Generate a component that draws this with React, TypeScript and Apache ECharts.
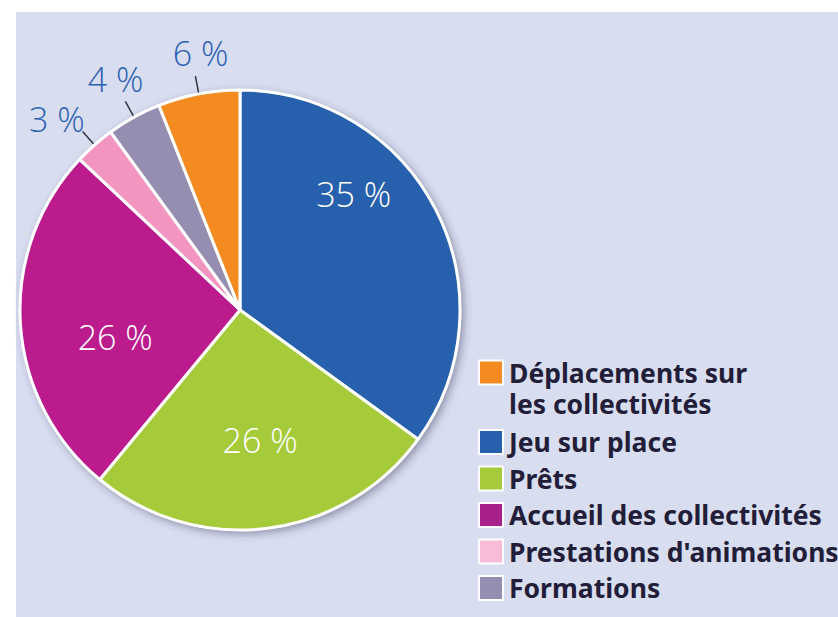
import React, { useEffect, useRef } from "react";
import * as echarts from "echarts";

const categories = [
  "Jeu sur place",
  "Prêts",
  "Accueil des collectivités",
  "Prestations d'animations",
  "Formations",
  "Déplacements sur\nles collectivités",
];
const values = [35, 26, 26, 3, 4, 6];
const sliceColors = ["#2761ad", "#a6cb3a", "#bb1b8c", "#f395c1", "#968eb1", "#f38b20"];
const legendOrder = [
  "Déplacements sur\nles collectivités",
  "Jeu sur place",
  "Prêts",
  "Accueil des collectivités",
  "Prestations d'animations",
  "Formations",
];
const legendColors = ["#f38b20", "#2761ad", "#a6cb3a", "#a8208a", "#f7bdd8", "#968eb1"];
const insideLabels = [true, true, true, false, false, false];

export default function App() {
  const ref = useRef<HTMLDivElement>(null);
  useEffect(() => {
    document.body.style.margin = "0";
    const chart = echarts.init(ref.current!, null, { renderer: "svg" });
    const labelOffsets: Record<number, [number, number]> = {
      0: [13, -65],
      1: [6, 18],
      2: [-12, 20],
      3: [7, -12],
      4: [23, -22],
      5: [38, -23],
    };
    const option: any = {
      animation: false,
      backgroundColor: "#ffffff",
      graphic: [
        {
          type: "rect",
          z: -10,
          shape: { x: 16, y: 12, width: 822, height: 605 },
          style: { fill: "#d8ddf0" },
          silent: true,
        },
      ],
      legend: {
        orient: "vertical",
        left: 478,
        top: 326,
        padding: 0,
        itemWidth: 24,
        itemHeight: 24,
        itemGap: 9.5,
        icon: "rect",
        selectedMode: false,
        formatter: (name: string) => (name.indexOf("\n") >= 0 ? "\n" + name : name),
        textStyle: {
          fontFamily: "Noto Sans",
          fontWeight: "bold",
          fontSize: 26.5,
          color: "#221d38",
          lineHeight: 24,
          padding: [0, 0, 0, 1],
        },
        data: legendOrder.map((n, i) => ({
          name: n,
          itemStyle: { color: legendColors[i] },
          textStyle: i === 0 ? { lineHeight: 31 } : undefined,
        })),
      },
      series: [
        {
          type: "pie",
          silent: true,
          center: [240, 310],
          radius: 221,
          z: 1,
          label: { show: false },
          labelLine: { show: false },
          itemStyle: {
            color: "#ffffff",
            shadowBlur: 8,
            shadowColor: "rgba(50,50,80,0.45)",
            shadowOffsetX: 3,
            shadowOffsetY: 3,
          },
          data: [{ value: 1, name: "__shadow" }],
        },
        {
          type: "pie",
          center: [240, 310],
          radius: 220,
          z: 2,
          startAngle: 90,
          clockwise: true,
          avoidLabelOverlap: false,
          itemStyle: { borderColor: "#ffffff", borderWidth: 3 },
          label: {
            fontFamily: "Open Sans",
            fontWeight: 300,
            fontSize: 34,
            formatter: "{c} %",
          },
          labelLine: {
            length: 18,
            length2: 0,
            lineStyle: { color: "#333340", width: 1.5 },
          },
          labelLayout: (p: any) => {
            const o = labelOffsets[p.dataIndex] || [0, 0];
            return { dx: o[0], dy: o[1] };
          },
          data: categories.map((c, i) => ({
            name: c,
            value: values[i],
            itemStyle: { color: sliceColors[i] },
            label: insideLabels[i]
              ? { position: "inside", color: "#ffffff" }
              : { position: "outside", color: "#2d62b2" },
            labelLine: { show: !insideLabels[i] },
          })),
        },
      ],
    };
    chart.setOption(option);
    return () => chart.dispose();
  }, []);
  return (
    <div
      ref={ref}
      style={{ position: "absolute", left: 0, top: 0, width: 838, height: 617 }}
    />
  );
}
